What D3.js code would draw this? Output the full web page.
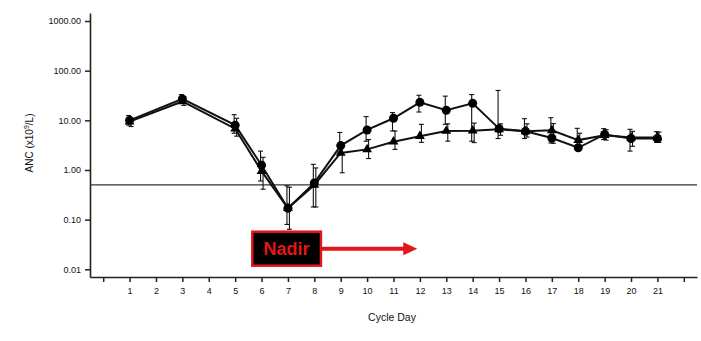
<!DOCTYPE html>
<html>
<head>
<meta charset="utf-8">
<script src="https://cdn.jsdelivr.net/npm/d3@7"></script>
<style>
  html, body { margin: 0; padding: 0; background: #fff; }
  svg { display: block; }
  text { font-family: "Liberation Sans", Arial, sans-serif; }
</style>
</head>
<body>
<svg id="chart" width="701" height="341"></svg>
<script>
// Cycle days with measurements
const days = [1, 3, 5, 6, 7, 8, 9, 10, 11, 12, 13, 14, 15, 16, 17, 18, 19, 20, 21];

// Series drawn with filled circles: mean ANC and error-bar ends (x10^9/L)
const circleMean = [10.0, 27, 8.0, 1.25, 0.17, 0.55, 3.1, 6.4, 11, 23, 16, 22, 6.8, 6.0, 4.4, 2.8, 5.2, 4.3, 4.3];
const circleHigh = [12.5, 33, 13, 2.4, 0.48, 1.3, 5.7, 11.9, 14.3, 32, 30.7, 33, 40, 10.8, 11.3, 6.9, 6.8, 6.6, 5.9];
const circleLow  = [8.0, 22, 5.5, 0.6, 0.08, 0.18, 2.3, 3.8, 6.1, 14.7, 8.3, 3.8, 4.3, 4.3, 3.5, 2.6, 4.1, 2.4, 3.6];

// Series drawn with filled triangles
const triMean = [9.4, 24, 6.8, 0.95, 0.17, 0.5, 2.2, 2.6, 3.7, 4.8, 6.1, 6.2, 6.6, 6.0, 6.3, 4.0, 5.0, 4.5, 4.5];
const triHigh = [11, 30, 11, 1.8, 0.45, 1.1, 3.5, 4.1, 6.1, 8.3, 8.5, 8.8, 8.5, 8.5, 8.6, 5.5, 6.5, 6.0, 5.8];
const triLow  = [7.5, 20, 4.8, 0.41, 0.064, 0.18, 0.88, 1.7, 2.6, 3.6, 3.8, 3.56, 5.0, 4.6, 3.45, 2.8, 4.0, 3.0, 3.6];

// Axis ticks
const xTicks = d3.range(0, 23);
const xTickLabels = d3.range(1, 22);
const yTicks = [0.01, 0.1, 1, 10, 100, 1000];

// Neutropenia threshold line and the nadir annotation
const thresholdANC = [0.5];
const nadirLabel = ["Nadir"];
const nadirSpan = [5.65, 8.25];     // cycle days covered by the label box
const nadirArrowTo = [11.9];        // cycle day the arrow points to
const nadirLevel = [0.026];         // ANC level the annotation is centred on

const svg = d3.select("#chart");

const x = d3.scaleLinear().domain([-0.5, 22.5]).range([90, 697]);
const y = d3.scaleLog().domain([0.007, 1450]).range([277, 13]);

// Axes
const xAxis = d3.axisBottom(x)
  .tickValues(xTicks)
  .tickFormat(d => xTickLabels.includes(d) ? d : "")
  .tickSize(5)
  .tickSizeOuter(0)
  .tickPadding(6);

const yAxis = d3.axisLeft(y)
  .tickValues(yTicks)
  .tickFormat(d3.format(".2f"))
  .tickSize(5)
  .tickSizeOuter(0)
  .tickPadding(4);

const gx = svg.append("g").attr("transform", "translate(0,277)").call(xAxis);
const gy = svg.append("g").attr("transform", "translate(90,0)").call(yAxis);

[gx, gy].forEach(g => {
  g.select(".domain").attr("stroke", "#222").attr("stroke-width", 1.6);
  g.selectAll(".tick line").attr("stroke", "#222").attr("stroke-width", 1.5);
  g.selectAll(".tick text").attr("fill", "#111").attr("font-size", 9)
    .attr("font-family", "Liberation Sans, Arial, sans-serif");
});

// Axis titles
svg.append("text")
  .attr("x", 392).attr("y", 321)
  .attr("text-anchor", "middle")
  .attr("font-size", 10.5).attr("fill", "#111")
  .text("Cycle Day");

const yTitle = svg.append("text")
  .attr("transform", "translate(33,143) rotate(-90)")
  .attr("text-anchor", "middle")
  .attr("font-size", 10).attr("fill", "#111");
yTitle.append("tspan").text("ANC (x10");
yTitle.append("tspan").attr("dy", -4).attr("font-size", 7).text("9");
yTitle.append("tspan").attr("dy", 4).text("/L)");

// Threshold line
svg.selectAll("line.threshold").data(thresholdANC).enter().append("line")
  .attr("class", "threshold")
  .attr("x1", 90).attr("x2", 697)
  .attr("y1", d => y(d)).attr("y2", d => y(d))
  .attr("stroke", "#333").attr("stroke-width", 1.3);

const circleRows = days.map((d, i) => ({ day: d, mean: circleMean[i], hi: circleHigh[i], lo: circleLow[i] }));
const triRows = days.map((d, i) => ({ day: d, mean: triMean[i], hi: triHigh[i], lo: triLow[i] }));

const line = d3.line().x(d => x(d.day)).y(d => y(d.mean));

// Error bars
function errorBars(rows, dx, cls) {
  const g = svg.append("g").attr("class", cls).attr("stroke", "#111").attr("stroke-width", 1.1);
  const sel = g.selectAll("g").data(rows).enter().append("g");
  sel.append("line")
    .attr("x1", d => x(d.day) + dx).attr("x2", d => x(d.day) + dx)
    .attr("y1", d => y(d.hi)).attr("y2", d => y(d.lo));
  sel.append("line")
    .attr("x1", d => x(d.day) + dx - 2.5).attr("x2", d => x(d.day) + dx + 2.5)
    .attr("y1", d => y(d.hi)).attr("y2", d => y(d.hi));
  sel.append("line")
    .attr("x1", d => x(d.day) + dx - 2.5).attr("x2", d => x(d.day) + dx + 2.5)
    .attr("y1", d => y(d.lo)).attr("y2", d => y(d.lo));
}
errorBars(circleRows, -1, "err-circle");
errorBars(triRows, 1.5, "err-tri");

// Series lines
svg.append("path").datum(triRows).attr("d", line)
  .attr("fill", "none").attr("stroke", "#111").attr("stroke-width", 2);
svg.append("path").datum(circleRows).attr("d", line)
  .attr("fill", "none").attr("stroke", "#111").attr("stroke-width", 2);

// Markers
svg.append("g").selectAll("path").data(triRows).enter().append("path")
  .attr("transform", d => `translate(${x(d.day)},${y(d.mean)})`)
  .attr("d", d3.symbol().type(d3.symbolTriangle).size(42))
  .attr("fill", "#000");
svg.append("g").selectAll("circle").data(circleRows).enter().append("circle")
  .attr("cx", d => x(d.day)).attr("cy", d => y(d.mean)).attr("r", 4.5)
  .attr("fill", "#000");

// Nadir annotation: boxed label with an arrow pointing to later cycle days
const boxX0 = x(nadirSpan[0]), boxX1 = x(nadirSpan[1]);
const boxCy = y(nadirLevel[0]);
const boxH = 34;
const red = "#e3151a";

svg.append("rect")
  .attr("x", boxX0).attr("y", boxCy - boxH / 2)
  .attr("width", boxX1 - boxX0).attr("height", boxH)
  .attr("fill", "#000").attr("stroke", red).attr("stroke-width", 2.5);

svg.selectAll("text.nadir").data(nadirLabel).enter().append("text")
  .attr("class", "nadir")
  .attr("x", (boxX0 + boxX1) / 2).attr("y", boxCy + 6.5)
  .attr("text-anchor", "middle")
  .attr("font-size", 18).attr("font-weight", "bold")
  .attr("fill", red)
  .text(d => d);

const tipX = x(nadirArrowTo[0]);
svg.append("line")
  .attr("x1", boxX1 + 1).attr("x2", tipX - 12)
  .attr("y1", boxCy).attr("y2", boxCy)
  .attr("stroke", red).attr("stroke-width", 4);
svg.append("path")
  .attr("d", `M${tipX},${boxCy} L${tipX - 14},${boxCy - 6.5} L${tipX - 14},${boxCy + 6.5} Z`)
  .attr("fill", red);
</script>
</body>
</html>
